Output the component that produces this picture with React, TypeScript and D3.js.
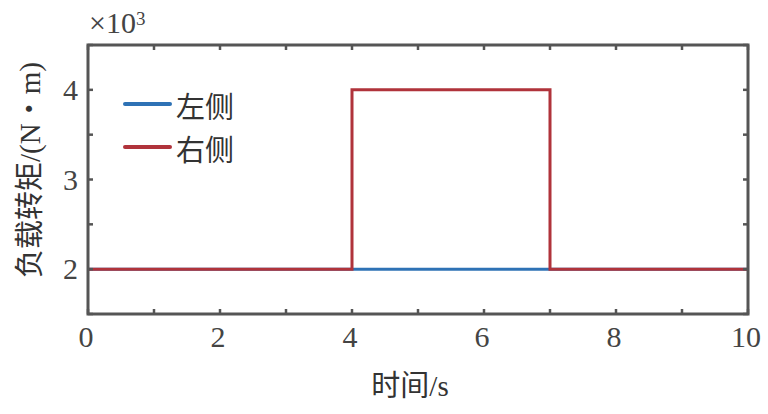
import React from "react";
import * as d3 from "d3";

const timeBreaks = [0, 4, 4, 7, 7, 10];
const leftSeries = [2, 2, 2, 2, 2, 2];
const rightSeries = [2, 2, 4, 4, 2, 2];
const xTicks = [0, 1, 2, 3, 4, 5, 6, 7, 8, 9, 10];
const xLabels = [0, 2, 4, 6, 8, 10];
const yTicks = [1.5, 2, 2.5, 3, 3.5, 4, 4.5];
const yLabels = [2, 3, 4];
const seriesNames = ["左侧", "右侧"];
const seriesColors = ["#2e72b5", "#b0333b"];

export default function App() {
  const W = 768, H = 414;
  const m = { l: 88, r: 20, t: 45, b: 100 };
  const x = d3.scaleLinear().domain([0, 10]).range([m.l, W - m.r]);
  const y = d3.scaleLinear().domain([1.5, 4.5]).range([H - m.b, m.t]);
  const line = d3.line<number>().x((_, i) => x(timeBreaks[i])).y((d) => y(d));
  const axisColor = "#555555";
  const serif = { fontFamily: "'Liberation Serif', 'Times New Roman', serif" };
  const cjk = { fontFamily: "'Liberation Serif', 'Noto Sans CJK SC', serif" };
  const cjkOnly = { fontFamily: "'Noto Sans CJK SC', sans-serif" };
  const tickLen = 5;
  return (
    <svg width={W} height={H} style={{ position: "absolute", left: 0, top: 0 }}>
      <rect width={W} height={H} fill="#fff" />
      <path d={line(leftSeries) || ""} fill="none" stroke={seriesColors[0]} strokeWidth={3} />
      <path d={line(rightSeries) || ""} fill="none" stroke={seriesColors[1]} strokeWidth={3} />
      {xTicks.map((t) => (
        <g key={"xt" + t}>
          <line x1={x(t)} x2={x(t)} y1={y(1.5)} y2={y(1.5) - tickLen} stroke={axisColor} strokeWidth={2.5} />
          <line x1={x(t)} x2={x(t)} y1={y(4.5)} y2={y(4.5) + tickLen} stroke={axisColor} strokeWidth={2.5} />
        </g>
      ))}
      {yTicks.map((t) => (
        <g key={"yt" + t}>
          <line x1={x(0)} x2={x(0) + tickLen} y1={y(t)} y2={y(t)} stroke={axisColor} strokeWidth={2.5} />
          <line x1={x(10)} x2={x(10) - tickLen} y1={y(t)} y2={y(t)} stroke={axisColor} strokeWidth={2.5} />
        </g>
      ))}
      <rect x={x(0)} y={y(4.5)} width={x(10) - x(0)} height={y(1.5) - y(4.5)} fill="none" stroke={axisColor} strokeWidth={3} />
      {xLabels.map((t) => (
        <text key={"xl" + t} x={x(t) - 2} y={y(1.5) + 33} textAnchor="middle" style={serif} fontSize={30} fill="#444">
          {t}
        </text>
      ))}
      {yLabels.map((t) => (
        <text key={"yl" + t} x={x(0) - 10} y={y(t) + 10} textAnchor="end" style={serif} fontSize={30} fill="#444">
          {t}
        </text>
      ))}
      <text x={x(0) + 1} y={33} style={serif} fontSize={30} fill="#444">
        ×10<tspan dy={-8} fontSize={19}>3</tspan>
      </text>
      <text x={410} y={396} textAnchor="middle" style={cjk} fontSize={29} fill="#333">
        时间/s
      </text>
      <text transform={`translate(40, 170) rotate(-90)`} textAnchor="middle" style={cjk} fontSize={29} fill="#333">
        负载转矩/(N<tspan style={cjkOnly}>・</tspan>m)
      </text>
      {seriesNames.map((n, i) => (
        <g key={n}>
          <line x1={125} x2={170} y1={104 + i * 43} y2={104 + i * 43} stroke={seriesColors[i]} strokeWidth={4} strokeLinecap="round" />
          <text x={176} y={118 + i * 43} style={cjk} fontSize={29} fill="#333">
            {n}
          </text>
        </g>
      ))}
    </svg>
  );
}
